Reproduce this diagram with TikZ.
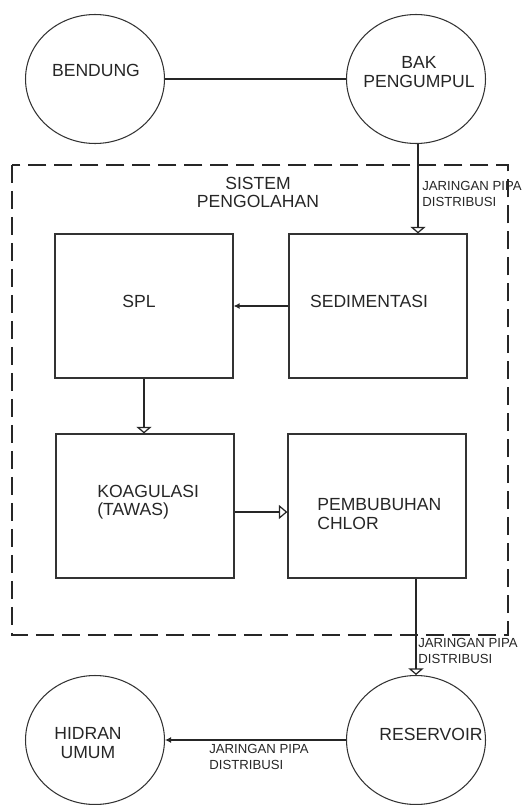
\documentclass[tikz,border=0pt]{standalone}
\usepackage{fontspec}
\setmainfont{Liberation Sans}
\usetikzlibrary{shapes.geometric, arrows.meta}

\begin{document}
\begin{tikzpicture}[x = 0.02cm, y = -0.02cm,
        tankcircle/.style = {draw = black!80, line width = 0.6pt, ellipse, minimum width = 2.78cm, minimum height = 2.58cm, inner sep = 0pt},
        unitbox/.style = {draw = black!80, line width = 0.7pt, rectangle, minimum width = 3.56cm, minimum height = 2.88cm, inner sep = 0pt},
        nametext/.style = {inner sep = 0pt, text = black!85, font = \fontsize{10}{10.3}\selectfont},
        pipeline/.style = {draw = black!85, line width = 0.7pt},
        opentip/.style = {-{Triangle[open, width = 0.3cm, length = 0.13cm]}},
        sidetip/.style = {-{Triangle[open, width = 0.28cm, length = 0.17cm]}},
        smalltip/.style = {-{Latex[width = 0.12cm, length = 0.12cm]}},
        pipelabel/.style = {anchor = north west, inner sep = 0pt, align = left, text = black!85, font = \fontsize{7.5}{8.8}\selectfont}]
        \useasboundingbox (0,0) rectangle (526,805);

        % sumber air
        \node[tankcircle] (bendung) at (95,79) {};
        \node[tankcircle] (bak) at (416,79) {};
        \node[nametext] (bendungtext) at (96,70) {BENDUNG};
        \node[nametext, align = center] (baktext) at (419,72) {BAK\\PENGUMPUL};

        % sistem pengolahan
        \draw[draw = black!85, line width = 0.7pt, dash pattern = on 0.36cm off 0.16cm] (12,165) rectangle (508,635);
        \node[nametext, align = center] (sistem) at (258,192) {SISTEM\\PENGOLAHAN};

        \node[unitbox] (spl) at (144,306) {};
        \node[unitbox] (sedimentasi) at (378,306) {};
        \node[unitbox] (koagulasi) at (145,506) {};
        \node[unitbox] (chlor) at (377,506) {};
        \node[nametext] (spltext) at (139,301) {SPL};
        \node[nametext] (sedtext) at (369,301) {SEDIMENTASI};
        \node[nametext, align = left, anchor = west] (koagtext) at (97,502) {KOAGULASI\\(TAWAS)};
        \node[nametext, align = left, anchor = west] (chlortext) at (317,514) {PEMBUBUHAN\\CHLOR};

        % distribusi
        \node[tankcircle] (reservoir) at (416,740) {};
        \node[tankcircle] (hidran) at (95,740) {};
        \node[nametext] (reservoirtext) at (431,734) {RESERVOIR};
        \node[nametext, align = center] (hidrantext) at (88,743) {HIDRAN\\UMUM};

        % connectors
        \draw[pipeline] (bendung.east) -- (bak.west);
        \draw[pipeline, opentip] ([xshift = 0.04cm]bak.south) -- ([xshift = 0.04cm]bak.south |- sedimentasi.north);
        \draw[pipeline, smalltip] (sedimentasi.west) -- (spl.east);
        \draw[pipeline, opentip] (spl.south) -- (spl.south |- koagulasi.north);
        \draw[pipeline, sidetip] ([yshift = -0.12cm]koagulasi.east) -- ([yshift = -0.12cm]chlor.west);
        \draw[pipeline, opentip] (reservoir.north |- chlor.south) -- (reservoir.north);
        \draw[pipeline, smalltip] (reservoir.west) -- (hidran.east);

        % label pipa
        \node[pipelabel] (pipa1) at (422,181) {JARINGAN PIPA\\DISTRIBUSI};
        \node[pipelabel] (pipa2) at (418,638) {JARINGAN PIPA\\DISTRIBUSI};
        \node[pipelabel] (pipa3) at (209,744) {JARINGAN PIPA\\DISTRIBUSI};
    \end{tikzpicture}
\end{document}
